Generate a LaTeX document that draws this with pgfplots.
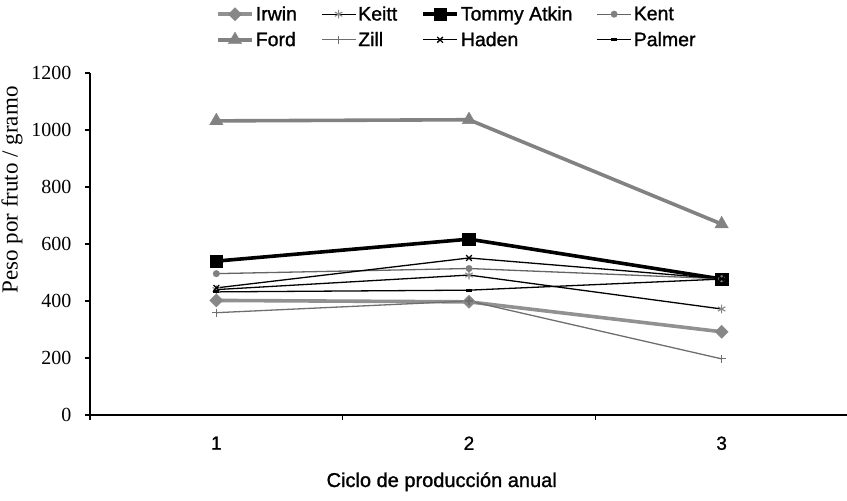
\documentclass[border=0pt]{standalone}
\usepackage{fontspec}
\setmainfont{Liberation Serif}
\newfontfamily\arial{Liberation Sans}[FakeBold=1.2]
\usepackage{pgfplots}
\pgfplotsset{compat=1.18}
\definecolor{irwinc}{RGB}{145,145,145}
\definecolor{irwinm}{RGB}{135,135,135}
\definecolor{fordc}{RGB}{130,130,130}
\definecolor{keittm}{RGB}{135,135,135}
\definecolor{kentc}{RGB}{100,100,100}
\definecolor{kentm}{RGB}{128,128,128}
\definecolor{zillc}{RGB}{110,110,110}
\begin{document}
\begin{tikzpicture}
\begin{axis}[
  scale only axis, width=758pt, height=342pt,
  xmin=0.5, xmax=3.5, ymin=0, ymax=1200,
  axis x line*=bottom, axis y line*=left,
  axis line style={line width=1.2pt},
  xtick={1,2,3}, xticklabels={1,2,3},
  minor xtick={0.5,1.5,2.5,3.5},
  ytick={0,200,400,600,800,1000,1200},
  tick align=outside,
  major tick length=5pt, minor tick length=5pt,
  tick style={line width=1.2pt, black},
  xtick style={draw=none},
  minor x tick style={draw=black, line width=1.2pt},
  /pgf/number format/assume math mode=true,
  /pgf/number format/1000 sep={},
  yticklabel style={font=\fontsize{20}{24}\selectfont, xshift=-10pt},
  xticklabel style={font=\arial\fontsize{19}{23}\selectfont, yshift=-13pt},
  xlabel={Ciclo de producción anual},
  xlabel style={font=\arial\fontsize{20}{24}\selectfont, at={(axis description cs:0.464,0)}, anchor=base, yshift=-72pt},
  ylabel={Peso por fruto / gramo},
  ylabel style={font=\fontsize{23}{27}\selectfont, at={(axis description cs:-0.103,0.658)}, anchor=center},
  legend columns=4,
  legend style={draw=none, fill=none, inner sep=0pt, font=\arial\fontsize{19.5}{23}\selectfont,
    at={(axis description cs:0.484,1.1345)}, anchor=center,
    /tikz/every even column/.append style={column sep=22pt}, row sep=6pt},
  legend cell align=left,
  legend image code/.code={\draw[mark repeat=2,mark phase=2] plot coordinates {(0pt,0pt) (17pt,0pt) (34pt,0pt)};},
]
% Irwin
\addplot[color=irwinc, line width=3.6pt, mark=square*, mark size=4.6pt,
  mark options={rotate=45, fill=irwinm, draw=irwinm, line width=0.5pt}]
  coordinates {(1,402) (2,397) (3,292)};
\addlegendentry{Irwin}
% Keitt
\addplot[color=black, line width=1.3pt, mark=asterisk, mark size=4.3pt,
  mark options={draw=keittm, line width=1.1pt}]
  coordinates {(1,440) (2,491) (3,372)};
\addlegendentry{Keitt}
% Tommy Atkin
\addplot[color=black, line width=3.6pt, mark=square*, mark size=6.3pt,
  mark options={fill=black, line width=0.5pt}]
  coordinates {(1,540) (2,617) (3,477)};
\addlegendentry{Tommy Atkin}
% Kent
\addplot[color=kentc, line width=1.3pt, mark=*, mark size=3.3pt,
  mark options={fill=kentm, draw=kentm, line width=0.3pt}]
  coordinates {(1,496) (2,514) (3,478)};
\addlegendentry{Kent}
% Ford
\addplot[color=fordc, line width=3.6pt, mark=triangle*, mark size=7.8pt,
  mark options={fill=fordc, draw=fordc, line width=0.3pt}]
  coordinates {(1,1032) (2,1036) (3,670)};
\addlegendentry{Ford}
% Zill
\addplot[color=zillc, line width=1.3pt, mark=+, mark size=4pt,
  mark options={line width=1.1pt}]
  coordinates {(1,359) (2,400) (3,197)};
\addlegendentry{Zill}
% Haden
\addplot[color=black, line width=1.3pt, mark=x, mark size=4pt,
  mark options={line width=1.3pt}]
  coordinates {(1,446) (2,551) (3,478)};
\addlegendentry{Haden}
% Palmer
\addplot[color=black, line width=1.3pt, mark=-, mark size=3pt,
  mark options={line width=2.8pt}]
  coordinates {(1,432) (2,438) (3,477)};
\addlegendentry{Palmer}
\end{axis}
\pgfresetboundingbox
\useasboundingbox (-90pt,-86pt) rectangle (757pt,415pt);
\end{tikzpicture}
\end{document}
